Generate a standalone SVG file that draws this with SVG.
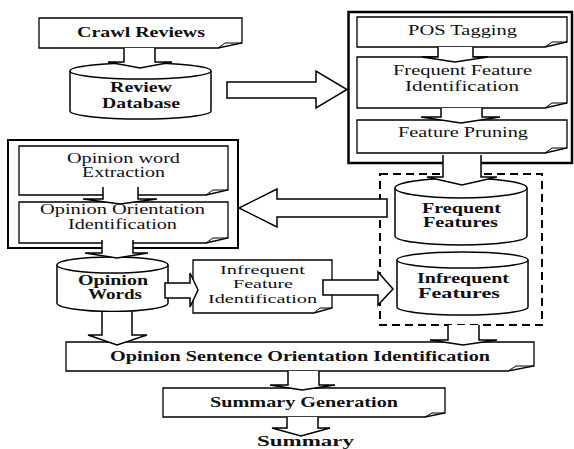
<svg xmlns="http://www.w3.org/2000/svg" width="574" height="449" viewBox="0 0 574 449">
<style>
.bx{fill:#fff;stroke:#000;stroke-width:1.3}
.fold{fill:none;stroke:#000;stroke-width:1}
.cyl{fill:#fff;stroke:#000;stroke-width:1.5}
.ar{fill:#fff;stroke:#000;stroke-width:1.5;stroke-linejoin:miter}
.t{font-family:'Liberation Serif','DejaVu Serif',serif;font-size:14px;fill:#111}
.s{font-size:13px}
.b{font-weight:bold}
.outer{fill:none;stroke:#000;stroke-width:2.5}
.dash{fill:none;stroke:#000;stroke-width:2;stroke-dasharray:8 5}
</style>
<rect width="574" height="449" fill="#fff"/>

<g id="right-group">
<rect class="outer" x="348.5" y="12" width="223.5" height="151"/>
</g>
<g id="left-group">
<rect class="outer" x="8" y="140" width="230" height="108" style="stroke-width:2"/>
</g>
<g id="feature-group">
<rect class="dash" x="380" y="174" width="162" height="151"/>
</g>

<g id="crawl-reviews">
<path class="bx" d="M39,18 H242 V43 L218,48 H39 Z"/>
<path class="fold" d="M218,48 L225,43 L242,43"/>
<text class="t b" font-family="'Liberation Serif','DejaVu Serif',serif" x="77" y="37" textLength="128" lengthAdjust="spacingAndGlyphs">Crawl Reviews</text>
</g>

<g id="review-database">
<path class="cyl" d="M70,71 V111 A70.5,8 0 0 0 211,111 V71"/>
<ellipse class="cyl" cx="140.5" cy="71" rx="70.5" ry="8"/>
<text class="t b" x="110" y="92" textLength="62" lengthAdjust="spacingAndGlyphs">Review</text>
<text class="t b" x="102" y="108" textLength="78" lengthAdjust="spacingAndGlyphs">Database</text>
</g>

<g id="pos-tagging">
<path class="bx" d="M357,17 H567 V42 L545,47 H357 Z"/>
<path class="fold" d="M545,47 L552,42 L567,42"/>
<text class="t" x="408" y="35" textLength="109" lengthAdjust="spacingAndGlyphs">POS Tagging</text>
</g>

<g id="frequent-feature-identification">
<path class="bx" d="M357,57 H567 V103 L545,108 H357 Z"/>
<path class="fold" d="M545,108 L552,103 L567,103"/>
<text class="t" x="393" y="75" textLength="139" lengthAdjust="spacingAndGlyphs">Frequent Feature</text>
<text class="t" x="405" y="91" textLength="114" lengthAdjust="spacingAndGlyphs">Identification</text>
</g>

<g id="feature-pruning">
<path class="bx" d="M357,120 H567 V148 L545,153 H357 Z"/>
<path class="fold" d="M545,153 L552,148 L567,148"/>
<text class="t" x="398" y="137" textLength="130" lengthAdjust="spacingAndGlyphs">Feature Pruning</text>
</g>

<g id="opinion-word-extraction">
<path class="bx" d="M19,146 H228 V190 L206,195 H19 Z"/>
<path class="fold" d="M206,195 L213,190 L228,190"/>
<text class="t" x="67" y="163" textLength="113" lengthAdjust="spacingAndGlyphs">Opinion word</text>
<text class="t" x="82" y="177" textLength="83" lengthAdjust="spacingAndGlyphs">Extraction</text>
</g>

<g id="opinion-orientation-identification">
<path class="bx" d="M19,202 H228 V238 L206,243 H19 Z"/>
<path class="fold" d="M206,243 L213,238 L228,238"/>
<text class="t" x="40" y="214" textLength="165" lengthAdjust="spacingAndGlyphs">Opinion Orientation</text>
<text class="t" x="68" y="229" textLength="109" lengthAdjust="spacingAndGlyphs">Identification</text>
</g>

<g id="frequent-features">
<path class="cyl" d="M395,188 V236 A66,9 0 0 0 527,236 V188"/>
<ellipse class="cyl" cx="461" cy="188" rx="66" ry="10"/>
<text class="t b" x="422" y="213" textLength="79" lengthAdjust="spacingAndGlyphs">Frequent</text>
<text class="t b" x="423" y="227" textLength="75" lengthAdjust="spacingAndGlyphs">Features</text>
</g>

<g id="infrequent-features">
<path class="cyl" d="M397,260 V307 A65.5,8 0 0 0 528,307 V260"/>
<ellipse class="cyl" cx="462.5" cy="260" rx="65.5" ry="8"/>
<text class="t b" x="417" y="283" textLength="92" lengthAdjust="spacingAndGlyphs">Infrequent</text>
<text class="t b" x="418" y="298" textLength="82" lengthAdjust="spacingAndGlyphs">Features</text>
</g>

<g id="opinion-words">
<path class="cyl" d="M57,265 V303 A55.5,8.5 0 0 0 168,303 V265"/>
<ellipse class="cyl" cx="112.5" cy="265" rx="55.5" ry="8"/>
<text class="t b" x="78" y="285" textLength="70" lengthAdjust="spacingAndGlyphs">Opinion</text>
<text class="t b" x="88" y="299" textLength="54" lengthAdjust="spacingAndGlyphs">Words</text>
</g>

<g id="infrequent-feature-identification">
<path class="bx" d="M193,260 H332 V308 L314,313 H193 Z"/>
<path class="fold" d="M314,313 L320,308 L332,308"/>
<text class="t s" x="220" y="274" textLength="85" lengthAdjust="spacingAndGlyphs">Infrequent</text>
<text class="t s" x="233" y="288" textLength="60" lengthAdjust="spacingAndGlyphs">Feature</text>
<text class="t s" x="208" y="303" textLength="109" lengthAdjust="spacingAndGlyphs">Identification</text>
</g>

<g id="opinion-sentence-orientation-identification">
<path class="bx" d="M66,342 H534 V366 L508,371 H66 Z"/>
<path class="fold" d="M508,371 L516,366 L534,366"/>
<text class="t b" x="110" y="361" textLength="380" lengthAdjust="spacingAndGlyphs">Opinion Sentence Orientation Identification</text>
</g>

<g id="summary-generation">
<path class="bx" d="M163,388 H445 V413 L425,417 H163 Z"/>
<path class="fold" d="M425,417 L432,413 L445,413"/>
<text class="t b" x="210" y="407" textLength="188" lengthAdjust="spacingAndGlyphs">Summary Generation</text>
</g>

<g id="summary">
<text class="t b" x="257" y="446" textLength="97" lengthAdjust="spacingAndGlyphs">Summary</text>
</g>

<g id="connectors">
<path class="ar" d="M124,48 V62 H108 L140,68 L172,62 H155 V48"/>
<path class="ar" d="M227,82 H316 V71 L347,89.5 L316,108 V98 H227 Z"/>
<path class="ar" d="M438,47 V57 H422 L455,62 L488,57 H473 V47"/>
<path class="ar" d="M441,108 V117 H421 L461,123 L500,117 H482 V108"/>
<path class="ar" d="M443,155 V177 H427 L462,185 L497,177 H481 V155"/>
<path class="ar" d="M387,199 H277 V189 L239,208 L277,227 V217 H387 Z"/>
<path class="ar" d="M103,187 V199 H83 L120,204 L157,199 H138 V187"/>
<path class="ar" d="M102,240 V253 H85 L117,258 L148,253 H133 V240"/>
<path class="ar" d="M165,283 H190 V273 L198,290 L190,307 V298 H165 Z"/>
<path class="ar" d="M323,280 H378 V272 L393,289 L378,305 V295 H323 Z"/>
<path class="ar" d="M102,312 V335 H88 L117,345 L147,335 H132 V312"/>
<path class="ar" d="M448,325 V340 H430 L463,345 L497,340 H479 V325"/>
<path class="ar" d="M288,371 V385 H270 L302,390 L335,385 H319 V371"/>
<path class="ar" d="M287,417 V428 H272 L301,436 L330,428 H318 V417"/>
</g>
</svg>
